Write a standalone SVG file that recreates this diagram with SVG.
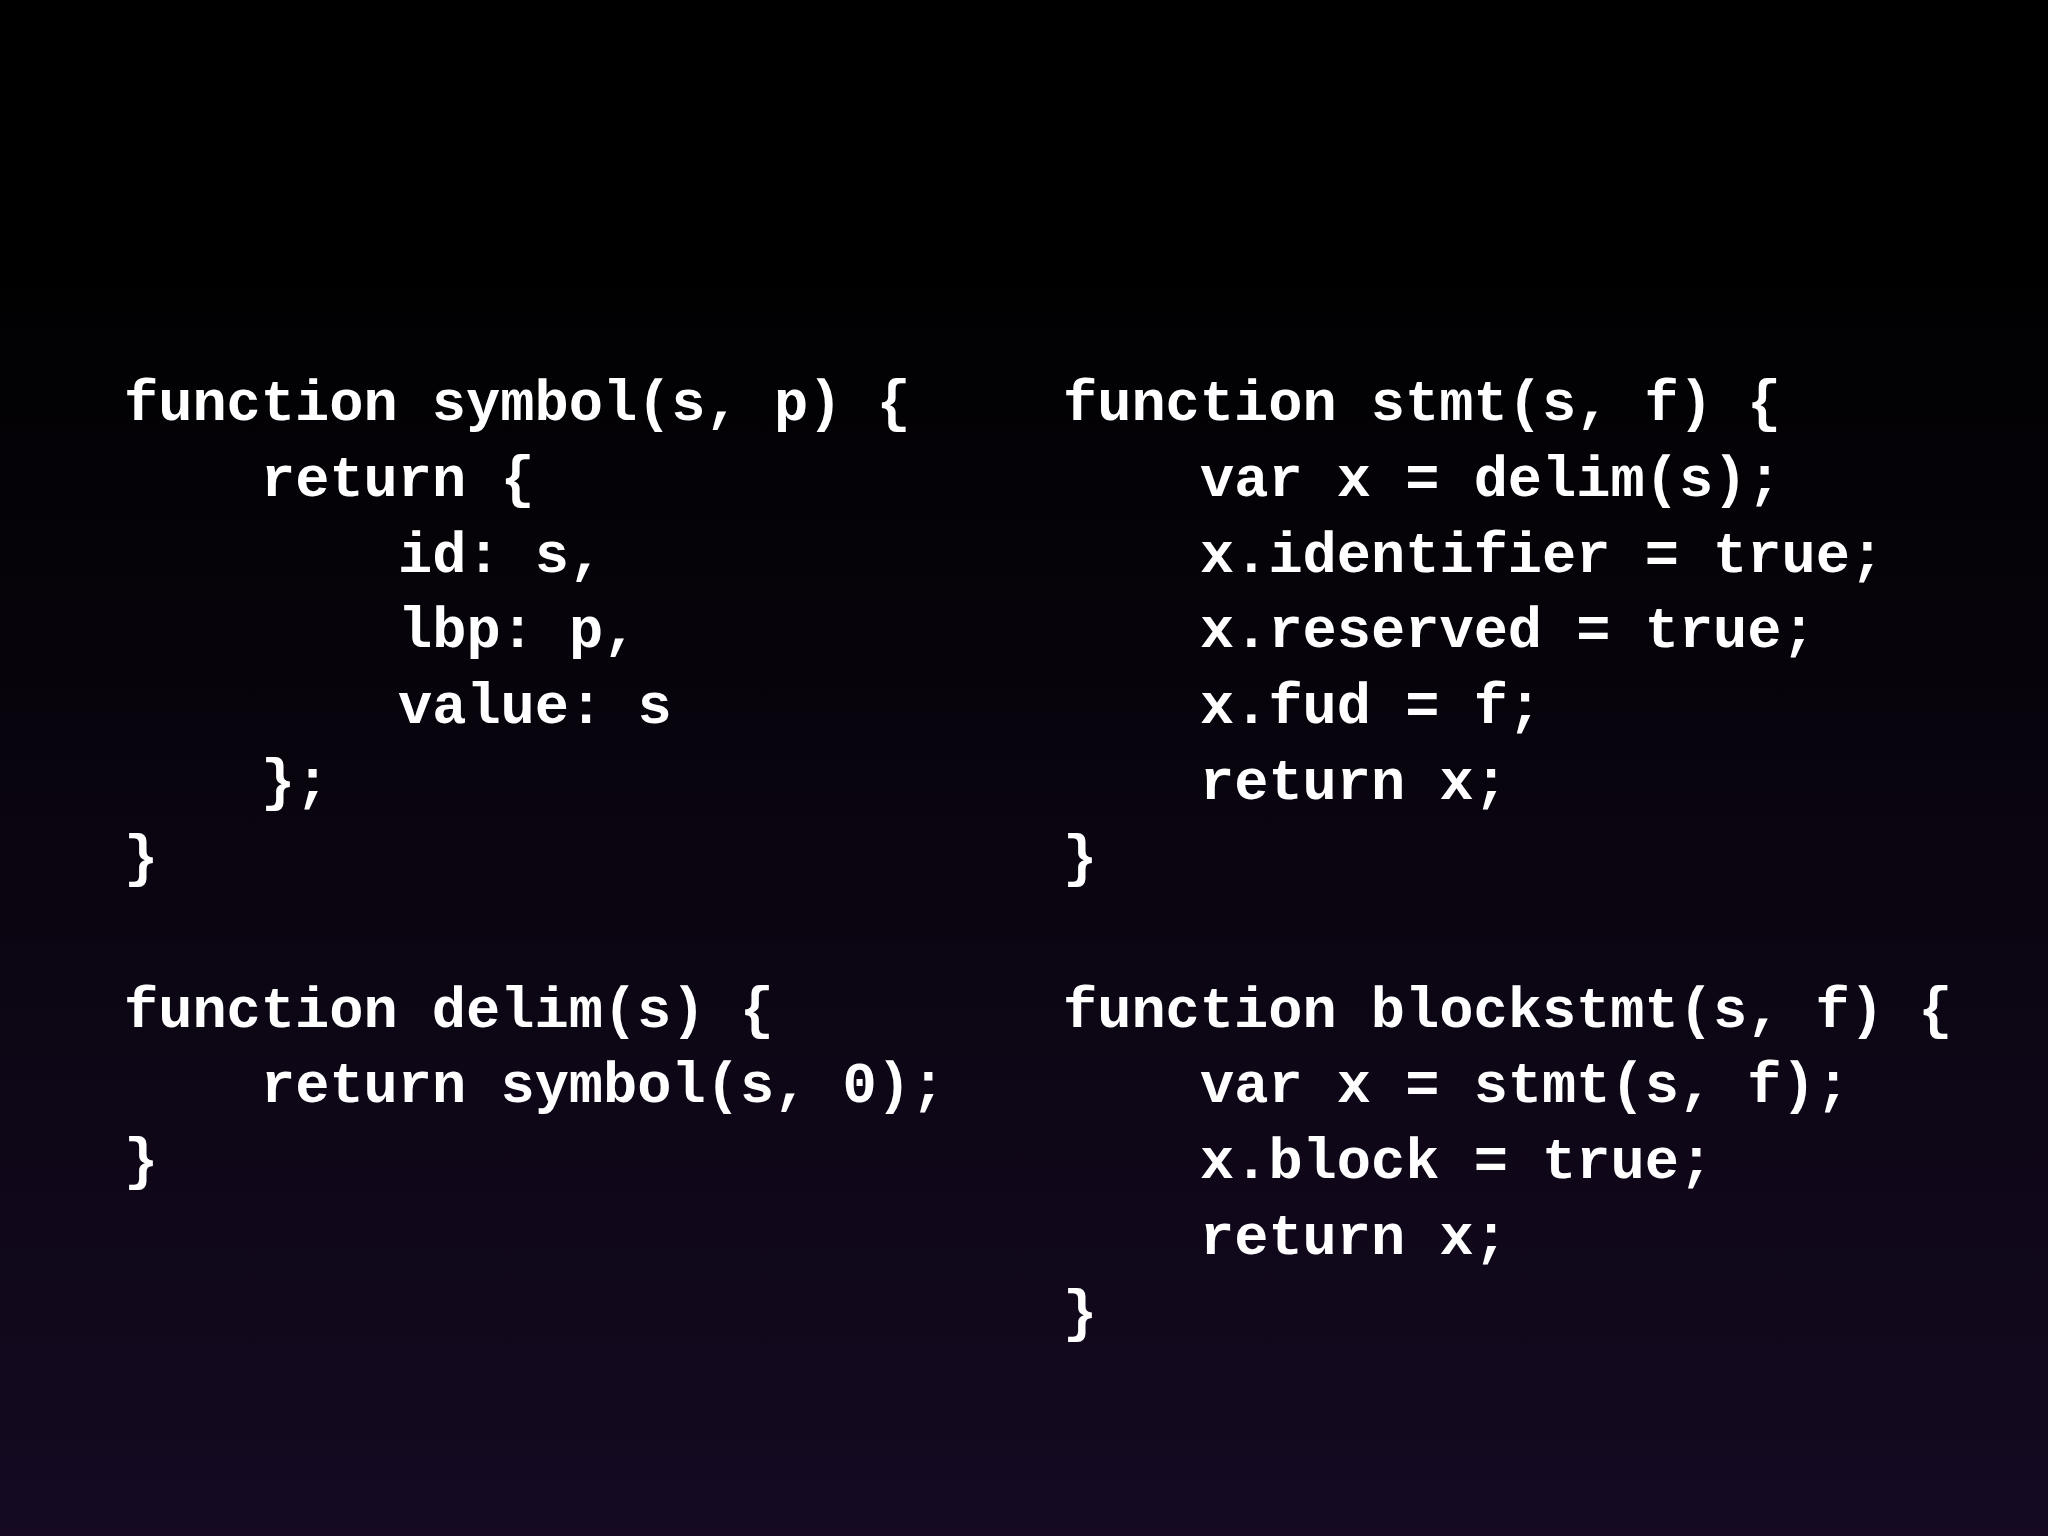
<svg xmlns="http://www.w3.org/2000/svg" width="2048" height="1536" viewBox="0 0 2048 1536">
<defs>
<linearGradient id="bg" x1="0" y1="0" x2="0" y2="1">
<stop offset="0" stop-color="#000000"/>
<stop offset="0.15" stop-color="#000000"/>
<stop offset="1" stop-color="#150a22"/>
</linearGradient>
<style>
.c{font-family:"Liberation Mono","Courier New",monospace;font-weight:bold;font-size:57px;fill:#ffffff;white-space:pre}
</style>
</defs>
<rect width="2048" height="1536" fill="url(#bg)"/>
<g id="left" class="c">
<text x="124" y="420">function symbol(s, p) {</text>
<text x="261" y="496">return {</text>
<text x="398" y="572">id: s,</text>
<text x="398" y="647">lbp: p,</text>
<text x="398" y="723">value: s</text>
<text x="261" y="799">};</text>
<text x="124" y="875">}</text>
<text x="124" y="1027">function delim(s) {</text>
<text x="261" y="1102">return symbol(s, 0);</text>
<text x="124" y="1178">}</text>
</g>
<g id="right" class="c">
<text x="1063" y="420">function stmt(s, f) {</text>
<text x="1200" y="496">var x = delim(s);</text>
<text x="1200" y="572">x.identifier = true;</text>
<text x="1200" y="647">x.reserved = true;</text>
<text x="1200" y="723">x.fud = f;</text>
<text x="1200" y="799">return x;</text>
<text x="1063" y="875">}</text>
<text x="1063" y="1027">function blockstmt(s, f) {</text>
<text x="1200" y="1102">var x = stmt(s, f);</text>
<text x="1200" y="1178">x.block = true;</text>
<text x="1200" y="1254">return x;</text>
<text x="1063" y="1330">}</text>
</g>
</svg>
